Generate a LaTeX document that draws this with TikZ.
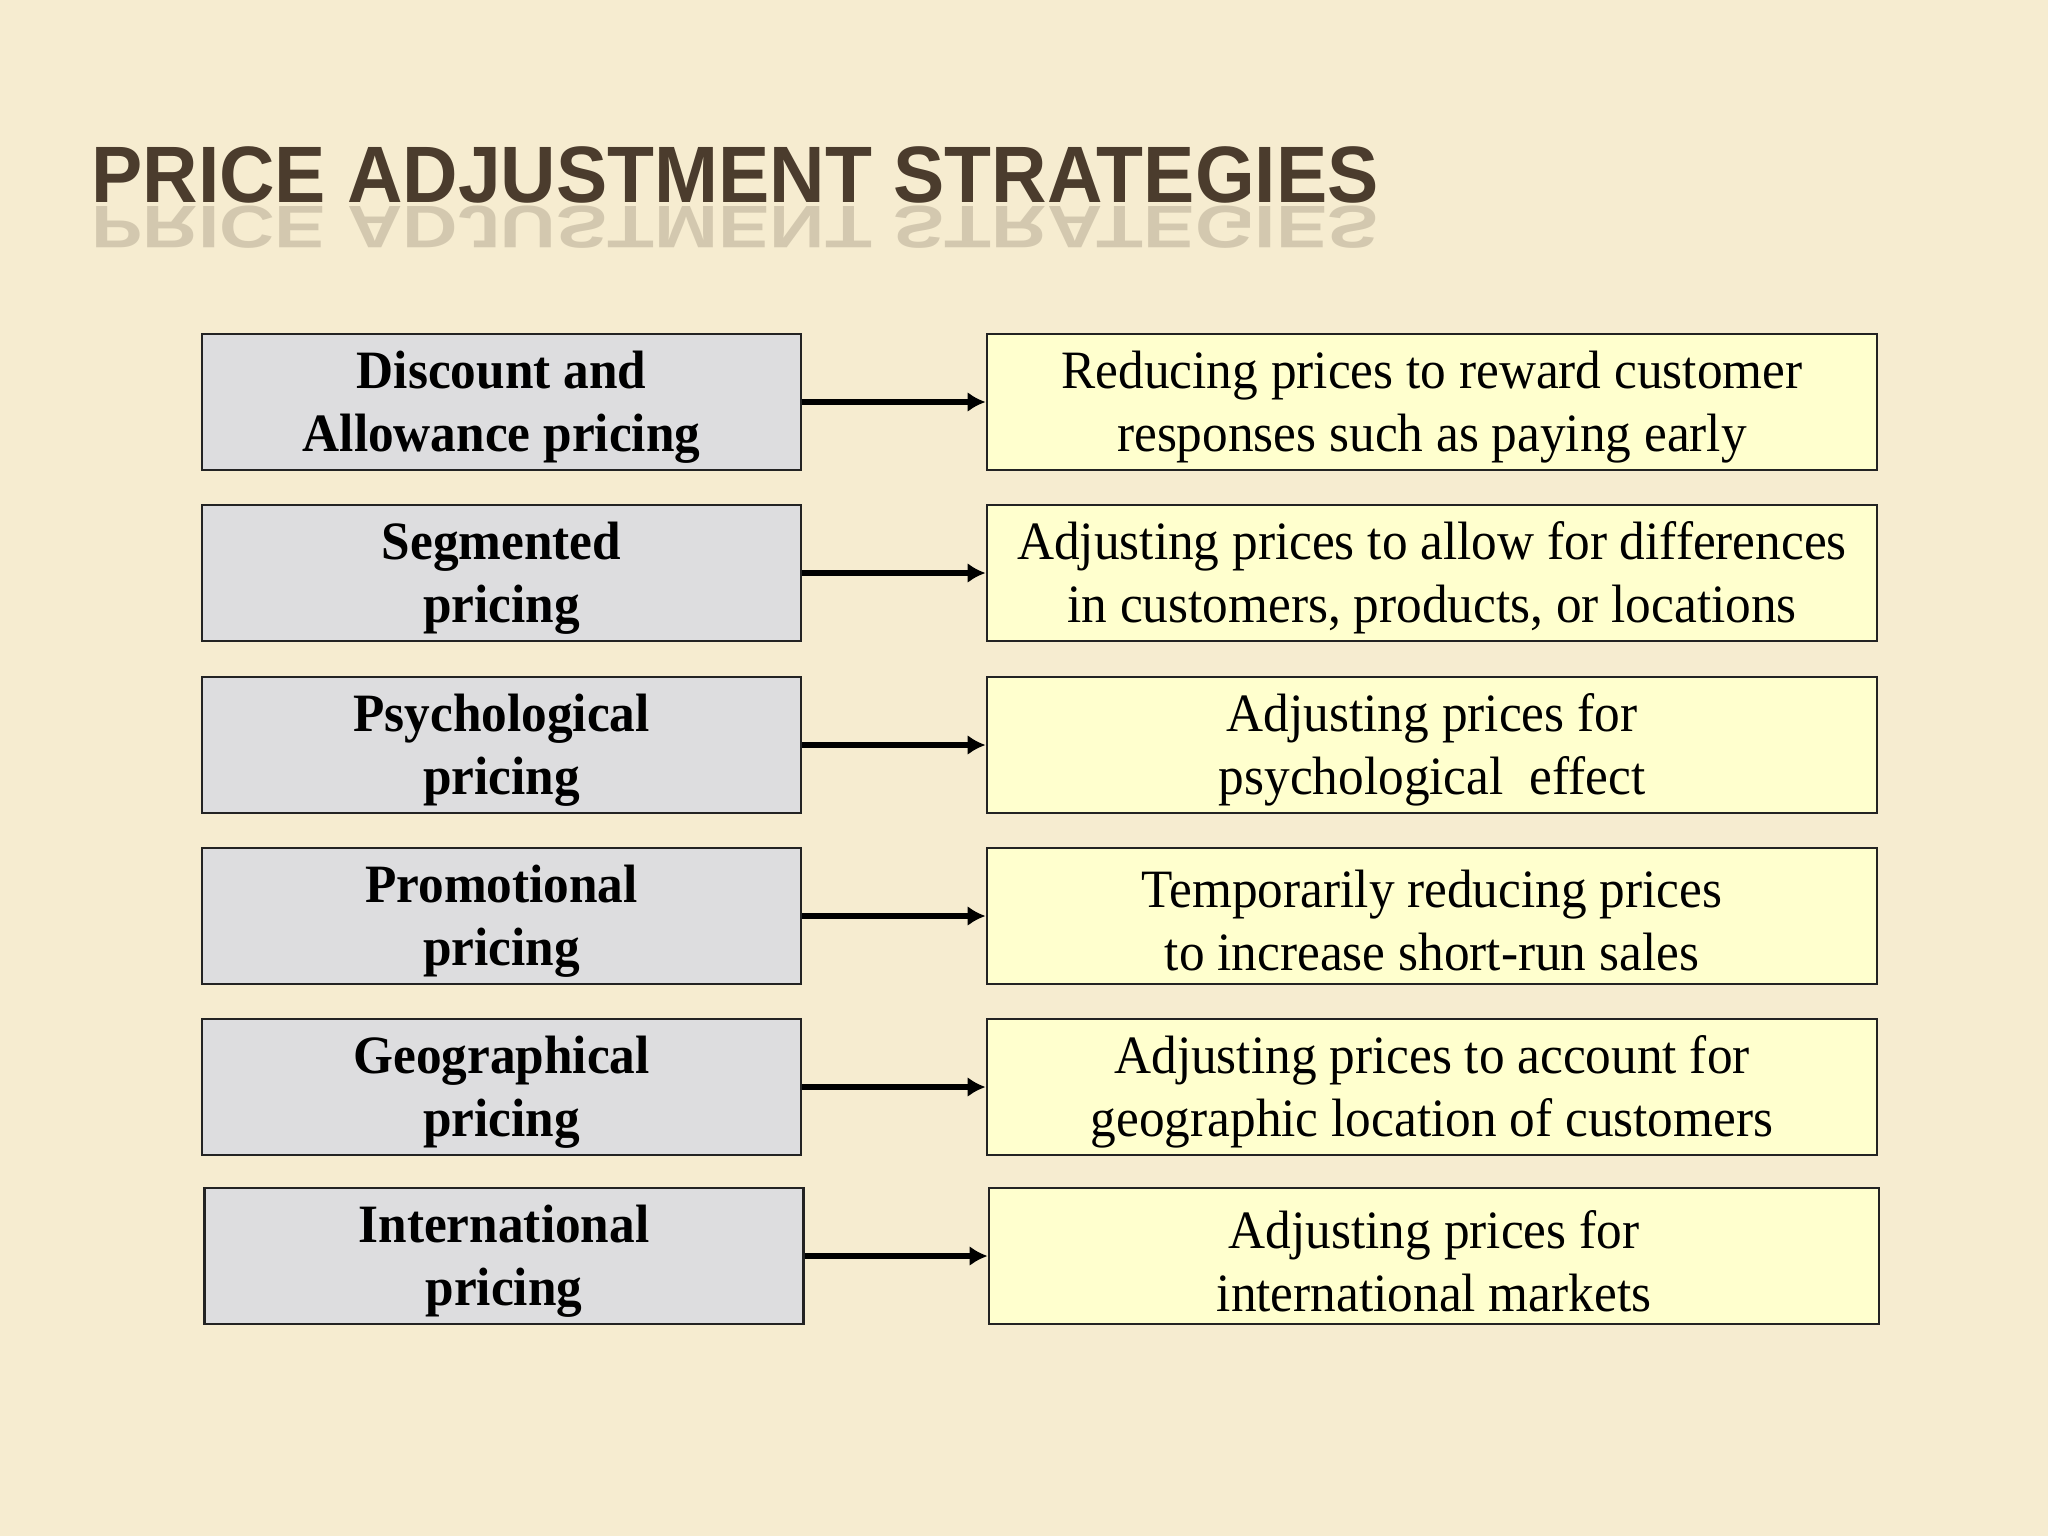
\documentclass[tikz,border=0pt]{standalone}
\usepackage{fontspec}
\setmainfont{Liberation Serif}
\newfontfamily\titlefont[FakeStretch=0.96]{Liberation Sans}
\newfontfamily\boxfont[FakeStretch=0.95]{Liberation Serif}
\definecolor{bgc}{RGB}{246,236,208}
\definecolor{titlec}{RGB}{75,60,45}
\definecolor{lfill}{RGB}{221,221,223}
\definecolor{rfill}{RGB}{255,255,206}
\definecolor{edge}{RGB}{35,35,35}
\usetikzlibrary{arrows.meta}
\tikzset{
  base/.style={draw=edge, line width=1.4pt, minimum height=68pt, inner sep=0pt},
  lbox/.style={base, fill=lfill, minimum width=299.5pt},
  rbox/.style={base, fill=rfill, minimum width=445pt},
  txt/.style={align=center, inner sep=0pt, text=black},
  ltxt/.style={txt, font=\boxfont\bfseries\fontsize{27}{31.5}\selectfont},
  rtxt/.style={txt, font=\boxfont\fontsize{27}{31.5}\selectfont},
  conn/.style={-{Latex[length=9pt,width=10pt]}, line width=3pt, black},
  ttl/.style={anchor=base west, inner sep=0pt, text=titlec, font=\titlefont\bfseries\fontsize{40}{48}\selectfont}
}
\begin{document}
\begin{tikzpicture}[x=0.5pt, y=-0.5pt]
\useasboundingbox (0,0) rectangle (2048,1536);
\fill[bgc] (0,0) rectangle (2048,1536);
\node[ttl] (title) at (91,202) {PRICE ADJUSTMENT STRATEGIES};
\node[ttl, opacity=0.2] (refl) at (91,206) {\scalebox{1}[-0.75]{PRICE ADJUSTMENT STRATEGIES}};

\node[lbox] (l1) at (501.5,402) {};
\node[rbox] (r1) at (1432,402) {};
\node[lbox] (l2) at (501.5,573) {};
\node[rbox] (r2) at (1432,573) {};
\node[lbox] (l3) at (501.5,745) {};
\node[rbox] (r3) at (1432,745) {};
\node[lbox] (l4) at (501.5,916) {};
\node[rbox] (r4) at (1432,916) {};
\node[lbox] (l5) at (501.5,1087) {};
\node[rbox] (r5) at (1432,1087) {};
\node[lbox] (l6) at (504,1256) {};
\node[rbox] (r6) at (1434,1256) {};

\node[ltxt] (l1t) at ([yshift=-2.5pt]l1.center) {Discount and\\Allowance pricing};
\node[rtxt] (r1t) at ([yshift=-2.5pt]r1.center) {Reducing prices to reward customer\\responses such as paying early};
\node[ltxt] (l2t) at ([yshift=-2.5pt]l2.center) {Segmented\\pricing};
\node[rtxt] (r2t) at ([yshift=-2.5pt]r2.center) {Adjusting prices to allow for differences\\in customers, products, or locations};
\node[ltxt] (l3t) at ([yshift=-2.5pt]l3.center) {Psychological\\pricing};
\node[rtxt] (r3t) at ([yshift=-2.5pt]r3.center) {Adjusting prices for\\psychological\ \ effect};
\node[ltxt] (l4t) at ([yshift=-2.5pt]l4.center) {Promotional\\pricing};
\node[rtxt] (r4t) at ([yshift=-2.5pt]r4.center) {Temporarily reducing prices\\to increase short-run sales};
\node[ltxt] (l5t) at ([yshift=-2.5pt]l5.center) {Geographical\\pricing};
\node[rtxt] (r5t) at ([yshift=-2.5pt]r5.center) {Adjusting prices to account for\\geographic location of customers};
\node[ltxt] (l6t) at ([yshift=-2.5pt]l6.center) {International\\pricing};
\node[rtxt] (r6t) at ([yshift=-2.5pt]r6.center) {Adjusting prices for\\international markets};

\foreach \i in {1,...,6} {\draw[conn] (l\i.east) -- (r\i.west);}
\end{tikzpicture}
\end{document}
